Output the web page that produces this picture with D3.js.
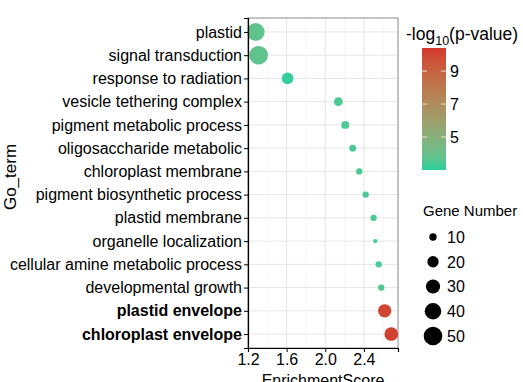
<!DOCTYPE html>
<html>
<head>
<meta charset="utf-8">
<script src="https://cdn.jsdelivr.net/npm/d3@7"></script>
<style>
  body { margin: 0; background: #fff; }
  text { font-family: "Liberation Sans", Arial, sans-serif; fill: #000; }
</style>
</head>
<body>
<div id="chart"></div>
<script>
// GO terms, top to bottom
var terms = [
  "plastid", "signal transduction", "response to radiation",
  "vesicle tethering complex", "pigment metabolic process",
  "oligosaccharide metabolic", "chloroplast membrane",
  "pigment biosynthetic process", "plastid membrane",
  "organelle localization", "cellular amine metabolic process",
  "developmental growth", "plastid envelope", "chloroplast envelope"
];
var enrichment = [1.28, 1.31, 1.61, 2.135, 2.207, 2.284, 2.352, 2.418, 2.50, 2.518, 2.553, 2.58, 2.615, 2.683];
var geneNumber = [46, 50, 21, 13, 11, 9, 8, 8, 8, 5, 8, 8, 27, 28];
var logP = [3.8, 3.8, 3.1, 3.4, 3.4, 3.4, 3.4, 3.4, 3.4, 3.3, 3.4, 3.4, 10.0, 10.2];
var boldTerms = ["plastid envelope", "chloroplast envelope"];

var xTicks = [1.2, 1.6, 2.0, 2.4];
var xMinor = [1.4, 1.8, 2.2, 2.6];
var colorTicks = [5, 7, 9];
var sizeBreaks = [10, 20, 30, 40, 50];

var W = 523, H = 382;
var panel = { left: 248, right: 398, top: 18, bottom: 348 };

var svg = d3.select("#chart").append("svg").attr("width", W).attr("height", H);

var x = d3.scaleLinear().domain([1.2, 2.753]).range([panel.left, panel.right]);
var y = d3.scalePoint().domain(terms).range([panel.top, panel.bottom]).padding(0.6);
var color = d3.scaleLinear().domain([3.0, 10.4]).range(["#2bd09b", "#d3382d"])
  .interpolate(d3.interpolateLab);
var area = d3.scaleLinear().domain([10, 50]).range([13.7, 86.5]);
var r = function (n) { return Math.sqrt(Math.max(area(n), 1)); };

var data = terms.map(function (t, i) {
  return { term: t, es: enrichment[i], n: geneNumber[i], p: logP[i] };
});

/* ------- GRID -------*/
var grid = svg.append("g");
grid.selectAll("line.minor").data(xMinor).enter().append("line")
  .attr("x1", d => x(d)).attr("x2", d => x(d))
  .attr("y1", panel.top).attr("y2", panel.bottom)
  .attr("stroke", "#f2f2f2").attr("stroke-width", 0.6);
grid.selectAll("line.vmajor").data(xTicks).enter().append("line")
  .attr("x1", d => x(d)).attr("x2", d => x(d))
  .attr("y1", panel.top).attr("y2", panel.bottom)
  .attr("stroke", "#e6e6e6").attr("stroke-width", 1);
grid.selectAll("line.hmajor").data(terms).enter().append("line")
  .attr("x1", panel.left).attr("x2", panel.right)
  .attr("y1", d => y(d)).attr("y2", d => y(d))
  .attr("stroke", "#e6e6e6").attr("stroke-width", 1);

svg.append("rect")
  .attr("x", panel.left).attr("y", panel.top)
  .attr("width", panel.right - panel.left).attr("height", panel.bottom - panel.top)
  .attr("fill", "none").attr("stroke", "#8a8a8a").attr("stroke-width", 1);

/* ------- POINTS -------*/
svg.append("g").selectAll("circle").data(data).enter().append("circle")
  .attr("cx", d => x(d.es))
  .attr("cy", d => y(d.term))
  .attr("r", d => r(d.n))
  .attr("fill", d => color(d.p));

/* ------- AXES -------*/
var yAxis = svg.append("g")
  .attr("transform", "translate(" + panel.left + ",0)")
  .call(d3.axisLeft(y).tickSize(4).tickPadding(2));
yAxis.select(".domain").attr("stroke", "#000").attr("stroke-width", 1.2);
yAxis.selectAll(".tick line").attr("stroke", "#000");
yAxis.selectAll(".tick text")
  .style("font-size", "16px")
  .style("font-family", "Liberation Sans, Arial, sans-serif")
  .attr("fill", "#000")
  .style("font-weight", d => boldTerms.indexOf(d) >= 0 ? "bold" : "normal");

var xAxis = svg.append("g")
  .attr("transform", "translate(0," + panel.bottom + ")")
  .call(d3.axisBottom(x).tickValues(xTicks).tickFormat(d3.format(".1f")).tickSize(4).tickPadding(2));
xAxis.select(".domain").attr("stroke", "#000").attr("stroke-width", 1.2);
xAxis.selectAll(".tick line").attr("stroke", "#000");
xAxis.selectAll(".tick text")
  .style("font-size", "16px")
  .style("font-family", "Liberation Sans, Arial, sans-serif")
  .attr("fill", "#000");

svg.append("text")
  .attr("x", (panel.left + panel.right) / 2).attr("y", 386)
  .attr("text-anchor", "middle").style("font-size", "16px")
  .text("EnrichmentScore");

svg.append("text")
  .attr("transform", "translate(16," + ((panel.top + panel.bottom) / 2 - 6) + ") rotate(-90)")
  .attr("text-anchor", "middle").style("font-size", "17px")
  .text("Go_term");

/* ------- COLOUR BAR -------*/
var cb = { x: 422, y: 48, w: 24, h: 122 };
var cbScale = d3.scaleLinear().domain(color.domain()).range([cb.y + cb.h, cb.y]);

var grad = svg.append("defs").append("linearGradient")
  .attr("id", "cbgrad").attr("x1", 0).attr("x2", 0).attr("y1", 1).attr("y2", 0);
grad.selectAll("stop").data(d3.range(0, 1.0001, 0.1)).enter().append("stop")
  .attr("offset", d => d)
  .attr("stop-color", d => color(color.domain()[0] + d * (color.domain()[1] - color.domain()[0])));

svg.append("rect")
  .attr("x", cb.x).attr("y", cb.y).attr("width", cb.w).attr("height", cb.h)
  .attr("fill", "url(#cbgrad)");

var cbt = svg.append("g");
cbt.selectAll("line.l").data(colorTicks).enter().append("line")
  .attr("x1", cb.x).attr("x2", cb.x + 5)
  .attr("y1", d => cbScale(d)).attr("y2", d => cbScale(d))
  .attr("stroke", "#f5e0c8").attr("stroke-width", 1);
cbt.selectAll("line.r").data(colorTicks).enter().append("line")
  .attr("x1", cb.x + cb.w - 5).attr("x2", cb.x + cb.w)
  .attr("y1", d => cbScale(d)).attr("y2", d => cbScale(d))
  .attr("stroke", "#f5e0c8").attr("stroke-width", 1);
cbt.selectAll("text").data(colorTicks).enter().append("text")
  .attr("x", cb.x + cb.w + 4).attr("y", d => cbScale(d))
  .attr("dy", "0.36em").style("font-size", "16px")
  .text(d => d);

var cbTitle = svg.append("text").attr("x", 406).attr("y", 40).style("font-size", "17.5px");
cbTitle.append("tspan").text("-log");
cbTitle.append("tspan").attr("dy", 5).style("font-size", "12.5px").text("10");
cbTitle.append("tspan").attr("dy", -5).text("(p-value)");

/* ------- SIZE LEGEND -------*/
svg.append("text").attr("x", 423).attr("y", 216).style("font-size", "15px").text("Gene Number");

var sizeY = d3.scalePoint().domain(sizeBreaks).range([237, 336]);
var sl = svg.append("g").selectAll("g").data(sizeBreaks).enter().append("g")
  .attr("transform", d => "translate(433," + sizeY(d) + ")");
sl.append("circle").attr("r", d => r(d)).attr("fill", "#000");
sl.append("text").attr("x", 14).attr("dy", "0.36em").style("font-size", "16px").text(d => d);
</script>
</body>
</html>
